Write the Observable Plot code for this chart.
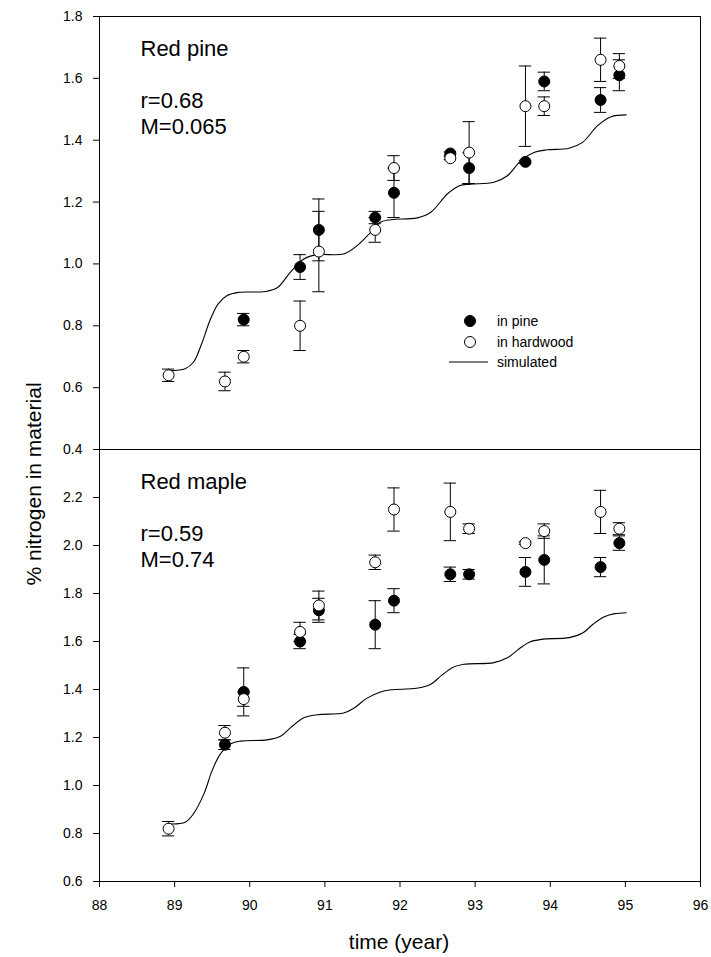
<!DOCTYPE html>
<html>
<head>
<meta charset="utf-8">
<script src="https://cdn.jsdelivr.net/npm/d3@7"></script>
<script src="https://cdn.jsdelivr.net/npm/@observablehq/plot@0.6"></script>
<style>
  body { margin: 0; background: #fff; }
  #chart { position: relative; width: 711px; height: 957px; font-family: "Liberation Sans", Arial, sans-serif; background: #fff; overflow: hidden; }
  #chart svg { position: absolute; left: 0; background: transparent !important; overflow: visible; }
  .title { position: absolute; font-size: 21px; color: #000; white-space: nowrap; }
</style>
</head>
<body>
<div id="chart"></div>
<script>
// ---- sample times (year) ----
const times = [88.92, 89.67, 89.92, 90.67, 90.92, 91.67, 91.92, 92.67, 92.92, 93.67, 93.92, 94.67, 94.92];

// ---- Red pine panel ----
const pineInPine     = [null, null, 0.82, 0.99, 1.11, 1.15, 1.23, 1.357, 1.31, 1.33, 1.59, 1.53, 1.61];
const pineInPineErr  = [null, null, 0.02, 0.04, 0.10, 0.02, 0.08, 0.005, 0.05, 0.005, 0.03, 0.04, 0.05];
const pineInHard     = [0.64, 0.62, 0.70, 0.80, 1.04, 1.11, 1.31, 1.342, 1.36, 1.51, 1.51, 1.66, 1.64];
const pineInHardErr  = [0.02, 0.03, 0.02, 0.08, 0.13, 0.04, 0.04, 0.005, 0.10, 0.13, 0.03, 0.07, 0.04];
const pineSimTime = [88.94, 89.14, 89.25, 89.36, 89.47, 89.58, 89.70, 89.85, 90.21, 90.37, 90.54, 90.72, 90.90, 91.25, 91.43, 91.61, 91.74, 91.88, 92.23, 92.41, 92.63, 92.79, 92.94, 93.25, 93.43, 93.61, 93.79, 93.96, 94.25, 94.43, 94.63, 94.81, 95.01];
const pineSim     = [0.655, 0.661, 0.682, 0.742, 0.817, 0.871, 0.898, 0.908, 0.911, 0.924, 0.973, 1.016, 1.030, 1.032, 1.059, 1.102, 1.135, 1.143, 1.149, 1.167, 1.226, 1.253, 1.258, 1.264, 1.285, 1.334, 1.361, 1.369, 1.374, 1.393, 1.447, 1.476, 1.482];
const pineLabels = ["Red pine", "r=0.68", "M=0.065"];
const pineTicks = [0.4, 0.6, 0.8, 1.0, 1.2, 1.4, 1.6, 1.8];

// ---- Red maple panel ----
const mapleInPine    = [null, 1.17, 1.39, 1.60, 1.73, 1.67, 1.77, 1.88, 1.88, 1.89, 1.94, 1.91, 2.01];
const mapleInPineErr = [null, 0.02, 0.10, 0.03, 0.05, 0.10, 0.05, 0.03, 0.02, 0.06, 0.10, 0.04, 0.03];
const mapleInHard    = [0.82, 1.22, 1.36, 1.64, 1.75, 1.93, 2.15, 2.14, 2.07, 2.01, 2.06, 2.14, 2.07];
const mapleInHardErr = [0.03, 0.03, 0.03, 0.04, 0.06, 0.03, 0.09, 0.12, 0.02, 0.005, 0.03, 0.09, 0.025];
const mapleSimTime = [88.92, 89.14, 89.25, 89.39, 89.50, 89.61, 89.75, 89.88, 90.23, 90.41, 90.54, 90.72, 90.90, 91.25, 91.40, 91.55, 91.74, 91.88, 92.22, 92.41, 92.55, 92.70, 92.85, 93.25, 93.43, 93.58, 93.72, 93.88, 94.25, 94.43, 94.57, 94.72, 94.86, 95.01];
const mapleSim     = [0.84, 0.847, 0.882, 0.965, 1.063, 1.132, 1.174, 1.185, 1.190, 1.205, 1.240, 1.282, 1.295, 1.302, 1.325, 1.362, 1.390, 1.399, 1.405, 1.422, 1.458, 1.492, 1.505, 1.512, 1.532, 1.568, 1.597, 1.609, 1.616, 1.635, 1.672, 1.703, 1.716, 1.720];
const mapleLabels = ["Red maple", "r=0.59", "M=0.74"];
const mapleTicks = [0.6, 0.8, 1.0, 1.2, 1.4, 1.6, 1.8, 2.0, 2.2];

const xTicks = [88, 89, 90, 91, 92, 93, 94, 95, 96];
const legendLabels = ["in pine", "in hardwood", "simulated"];
const xTitle = "time (year)";
const yTitle = "% nitrogen in material";

const FONT = '"Liberation Sans", Arial, sans-serif';
const CAP = 0.082; // half cap width in years

function rows(vals, errs) {
  return times.map((t, i) => ({t, v: vals[i], e: errs[i]})).filter(d => d.v != null);
}

function panelMarks(inPine, inPineErr, inHard, inHardErr, simT, simV, labels) {
  const p = rows(inPine, inPineErr);
  const h = rows(inHard, inHardErr);
  const sim = simT.map((t, i) => ({t, v: simV[i]}));
  const errMarks = (data) => [
    Plot.ruleX(data, {x: "t", y1: d => d.v - d.e, y2: d => d.v + d.e, stroke: "black", strokeWidth: 1}),
    Plot.ruleY(data, {y: d => d.v + d.e, x1: d => d.t - CAP, x2: d => d.t + CAP, stroke: "black", strokeWidth: 1}),
    Plot.ruleY(data, {y: d => d.v - d.e, x1: d => d.t - CAP, x2: d => d.t + CAP, stroke: "black", strokeWidth: 1})
  ];
  return [
    Plot.line(sim, {x: "t", y: "v", curve: "catmull-rom", stroke: "black", strokeWidth: 1.1}),
    ...errMarks(p),
    Plot.dot(p, {x: "t", y: "v", r: 5.5, fill: "black", stroke: "black", strokeWidth: 1}),
    ...errMarks(h),
    Plot.dot(h, {x: "t", y: "v", r: 5.5, fill: "white", stroke: "black", strokeWidth: 1}),
    Plot.text([labels[0]], {frameAnchor: "top-left", text: d => d, dx: 41, dy: 39, lineAnchor: "bottom", textAnchor: "start", fontSize: 22, fill: "black"}),
    Plot.text([labels[1]], {frameAnchor: "top-left", text: d => d, dx: 41, dy: 91, lineAnchor: "bottom", textAnchor: "start", fontSize: 22, fill: "black"}),
    Plot.text([labels[2]], {frameAnchor: "top-left", text: d => d, dx: 41, dy: 117, lineAnchor: "bottom", textAnchor: "start", fontSize: 22, fill: "black"})
  ];
}

const chart = document.getElementById("chart");

// Top panel: plot area y 16..449
const topPlot = Plot.plot({
  width: 711, height: 470,
  marginTop: 16, marginBottom: 21, marginLeft: 99, marginRight: 11,
  style: {fontFamily: FONT, background: "transparent", overflow: "visible"},
  x: {domain: [88, 96], axis: null},
  y: {domain: [0.4, 1.8]},
  marks: [
    Plot.axisY({ticks: pineTicks, tickFormat: d3.format(".1f"), tickSize: 6, tickPadding: 11, fontSize: 14, label: null, stroke: "black"}),
    ...panelMarks(pineInPine, pineInPineErr, pineInHard, pineInHardErr, pineSimTime, pineSim, pineLabels),
    Plot.frame({stroke: "black", strokeWidth: 1})
  ]
});
topPlot.style.top = "0px";

// Bottom panel: plot area y 449..881
const botPlot = Plot.plot({
  width: 711, height: 517,
  marginTop: 9, marginBottom: 76, marginLeft: 99, marginRight: 11,
  style: {fontFamily: FONT, background: "transparent", overflow: "visible"},
  x: {domain: [88, 96]},
  y: {domain: [0.6, 2.4]},
  marks: [
    Plot.axisY({ticks: mapleTicks, tickFormat: d3.format(".1f"), tickSize: 6, tickPadding: 11, fontSize: 14, label: null, stroke: "black"}),
    Plot.axisX({ticks: xTicks, tickFormat: d => String(d), tickSize: 6, tickPadding: 13, fontSize: 14, label: null, stroke: "black"}),
    ...panelMarks(mapleInPine, mapleInPineErr, mapleInHard, mapleInHardErr, mapleSimTime, mapleSim, mapleLabels),
    Plot.frame({stroke: "black", strokeWidth: 1})
  ]
});
botPlot.style.top = "440px";

chart.appendChild(topPlot);
chart.appendChild(botPlot);

// Legend (top panel)
const ns = "http://www.w3.org/2000/svg";
const leg = document.createElementNS(ns, "svg");
leg.setAttribute("width", 160);
leg.setAttribute("height", 60);
leg.style.left = "440px";
leg.style.top = "310px";
leg.style.position = "absolute";
const items = [
  {type: "filled", label: legendLabels[0], y: 11},
  {type: "open", label: legendLabels[1], y: 32},
  {type: "line", label: legendLabels[2], y: 52}
];
for (const it of items) {
  if (it.type === "line") {
    const l = document.createElementNS(ns, "line");
    l.setAttribute("x1", 9); l.setAttribute("x2", 48);
    l.setAttribute("y1", it.y); l.setAttribute("y2", it.y);
    l.setAttribute("stroke", "black"); l.setAttribute("stroke-width", 1.1);
    leg.appendChild(l);
  } else {
    const c = document.createElementNS(ns, "circle");
    c.setAttribute("cx", 30); c.setAttribute("cy", it.y); c.setAttribute("r", 5.5);
    c.setAttribute("fill", it.type === "filled" ? "black" : "white");
    c.setAttribute("stroke", "black");
    leg.appendChild(c);
  }
  const t = document.createElementNS(ns, "text");
  t.setAttribute("x", 57); t.setAttribute("y", it.y);
  t.setAttribute("dy", "0.35em");
  t.setAttribute("font-size", 14);
  t.setAttribute("font-family", FONT);
  t.textContent = it.label;
  leg.appendChild(t);
}
chart.appendChild(leg);

// Axis titles
const xt = document.createElement("div");
xt.className = "title";
xt.textContent = xTitle;
xt.style.left = "399px";
xt.style.top = "942px";
xt.style.transform = "translate(-50%, -50%)";
chart.appendChild(xt);

const yt = document.createElement("div");
yt.className = "title";
yt.textContent = yTitle;
yt.style.left = "34px";
yt.style.top = "484px";
yt.style.transform = "translate(-50%, -50%) rotate(-90deg)";
chart.appendChild(yt);
</script>
</body>
</html>
